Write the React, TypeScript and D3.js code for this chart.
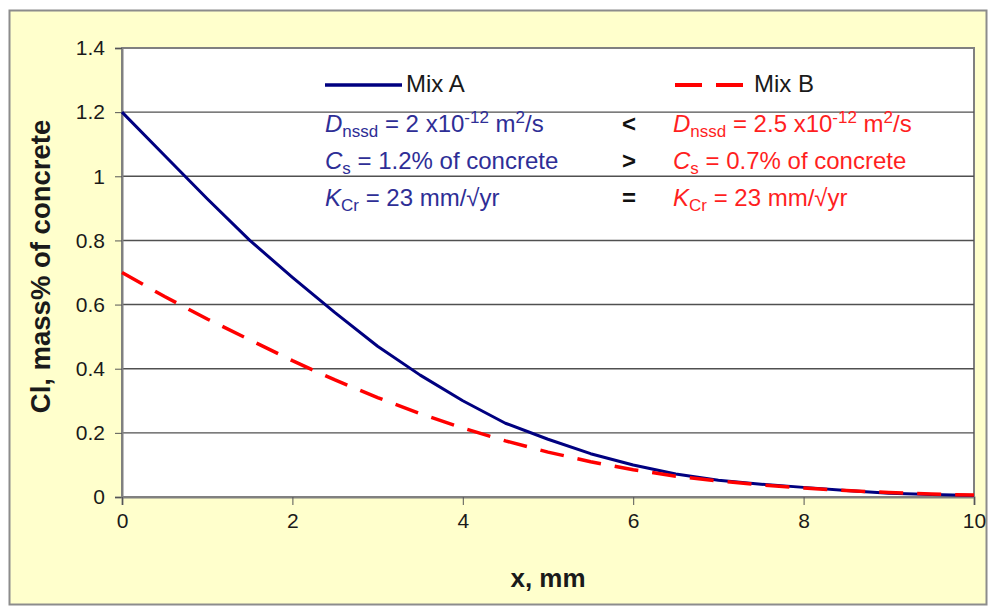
import * as d3 from "d3";
import { useEffect, useRef } from "react";

// depth x (mm), sampled every 0.5 mm
const xValues = [0, 0.5, 1, 1.5, 2, 2.5, 3, 3.5, 4, 4.5, 5, 5.5, 6, 6.5, 7, 7.5, 8, 8.5, 9, 9.5, 10];
const mixA = [1.2, 1.065, 0.93, 0.8, 0.685, 0.575, 0.47, 0.38, 0.3, 0.23, 0.18, 0.135, 0.1, 0.072, 0.052, 0.04, 0.03, 0.02, 0.012, 0.008, 0.005];
const mixB = [0.7, 0.625, 0.555, 0.49, 0.425, 0.365, 0.31, 0.26, 0.215, 0.175, 0.14, 0.11, 0.085, 0.065, 0.05, 0.038, 0.028, 0.02, 0.014, 0.009, 0.006];

const yTicks = [0, 0.2, 0.4, 0.6, 0.8, 1, 1.2, 1.4];
const yTickLabels = ["0", "0.2", "0.4", "0.6", "0.8", "1", "1.2", "1.4"];
const xTicks = [0, 2, 4, 6, 8, 10];

const seriesNames = ["Mix A", "Mix B"];
const yTitle = "Cl, mass% of concrete";
const xTitle = "x, mm";

// annotation rows, split into plain / italic / sub / sup runs
type Part = { t: string; it?: boolean; sub?: boolean; sup?: boolean };
const notesA: Part[][] = [
  [{ t: "D", it: true }, { t: "nssd", sub: true }, { t: " = 2 x10" }, { t: "-12", sup: true }, { t: " m" }, { t: "2", sup: true }, { t: "/s" }],
  [{ t: "C", it: true }, { t: "s", sub: true }, { t: " = 1.2% of concrete" }],
  [{ t: "K", it: true }, { t: "Cr", sub: true }, { t: " = 23 mm/\u221Ayr" }],
];
const notesB: Part[][] = [
  [{ t: "D", it: true }, { t: "nssd", sub: true }, { t: " = 2.5 x10" }, { t: "-12", sup: true }, { t: " m" }, { t: "2", sup: true }, { t: "/s" }],
  [{ t: "C", it: true }, { t: "s", sub: true }, { t: " = 0.7% of concrete" }],
  [{ t: "K", it: true }, { t: "Cr", sub: true }, { t: " = 23 mm/\u221Ayr" }],
];
const compareSigns = ["<", ">", "="];

const COL_A = "#000080";
const COL_B = "#ff0000";
const TXT_A = "#2e2e96";
const TXT_B = "#ff1f1f";
const FONT = "Arial, 'Liberation Sans', sans-serif";

export default function App() {
  const ref = useRef<SVGSVGElement | null>(null);

  useEffect(() => {
    const host = ref.current;
    if (!host) return;
    const svg = d3.select(host);
    svg.selectAll("*").remove();

    const left = 122;
    const right = 974;
    const top = 48;
    const bottom = 497;

    // chart area
    svg.append("rect")
      .attr("x", 9.5).attr("y", 10.5).attr("width", 977).attr("height", 594)
      .attr("fill", "#ffffcc").attr("stroke", "#8c8c8c").attr("stroke-width", 2);

    const x = d3.scaleLinear().domain([0, 10]).range([left, right]);
    const y = d3.scaleLinear().domain([0, 1.4]).range([bottom, top]);

    svg.append("rect")
      .attr("x", left).attr("y", top).attr("width", right - left).attr("height", bottom - top)
      .attr("fill", "#ffffff").attr("stroke", "#808080").attr("stroke-width", 2);

    // gridlines
    svg.append("g").selectAll("line")
      .data(yTicks.filter((d) => d > 0 && d < 1.4))
      .enter().append("line")
      .attr("x1", left).attr("x2", right)
      .attr("y1", (d) => y(d)).attr("y2", (d) => y(d))
      .attr("stroke", "#505050").attr("stroke-width", 1.4);

    // y axis
    const yAxis = d3.axisLeft(y).tickValues(yTicks).tickSize(7).tickPadding(10)
      .tickFormat((d, i) => yTickLabels[i]);
    const gy = svg.append("g").attr("transform", `translate(${left},0)`).call(yAxis);
    gy.select(".domain").attr("stroke", "#808080").attr("stroke-width", 2);
    gy.selectAll(".tick line").attr("stroke", "#555");
    gy.selectAll("text").attr("font-family", FONT).attr("font-size", 21).attr("fill", "#1a1a1a");

    // x axis
    const xAxis = d3.axisBottom(x).tickValues(xTicks).tickSize(8).tickPadding(8).tickFormat(d3.format("d"));
    const gx = svg.append("g").attr("transform", `translate(0,${bottom})`).call(xAxis);
    gx.select(".domain").attr("stroke", "#808080").attr("stroke-width", 2);
    gx.selectAll(".tick line").attr("stroke", "#555");
    gx.selectAll("text").attr("font-family", FONT).attr("font-size", 21).attr("fill", "#1a1a1a");

    // titles
    svg.append("text")
      .attr("transform", `translate(50,${(top + bottom) / 2 - 6}) rotate(-90)`)
      .attr("text-anchor", "middle")
      .attr("font-family", FONT).attr("font-weight", 700).attr("font-size", 27.5).attr("fill", "#1a1a1a")
      .text(yTitle);
    svg.append("text")
      .attr("x", (left + right) / 2).attr("y", 587)
      .attr("text-anchor", "middle")
      .attr("font-family", FONT).attr("font-weight", 700).attr("font-size", 26).attr("fill", "#1a1a1a")
      .text(xTitle);

    // curves
    const line = d3.line<number>().x((d, i) => x(xValues[i])).y((d) => y(d));
    svg.append("path").datum(mixA).attr("d", line)
      .attr("fill", "none").attr("stroke", COL_A).attr("stroke-width", 3).attr("stroke-linejoin", "round");
    svg.append("path").datum(mixB).attr("d", line)
      .attr("fill", "none").attr("stroke", COL_B).attr("stroke-width", 3.5).attr("stroke-dasharray", "24 14");

    // legend
    svg.append("line").attr("x1", 325).attr("x2", 402).attr("y1", 85).attr("y2", 85)
      .attr("stroke", COL_A).attr("stroke-width", 3.5);
    svg.append("line").attr("x1", 675).attr("x2", 743).attr("y1", 85).attr("y2", 85)
      .attr("stroke", COL_B).attr("stroke-width", 4).attr("stroke-dasharray", "27 14");
    svg.append("text").attr("x", 406).attr("y", 92).attr("font-family", FONT).attr("font-size", 24)
      .attr("fill", "#1a1a1a").text(seriesNames[0]);
    svg.append("text").attr("x", 754).attr("y", 92).attr("font-family", FONT).attr("font-size", 24)
      .attr("fill", "#1a1a1a").text(seriesNames[1]);

    const rowY = [132, 169, 206];
    const writeRow = (parts: Part[], x0: number, y0: number, color: string) => {
      const t = svg.append("text").attr("x", x0).attr("y", y0)
        .attr("font-family", FONT).attr("font-size", 24).attr("fill", color);
      let shift = 0;
      parts.forEach((p) => {
        const target = p.sub ? 5 : p.sup ? -9 : 0;
        const ts = t.append("tspan").attr("dy", target - shift).text(p.t);
        shift = target;
        if (p.sub || p.sup) ts.attr("font-size", 17);
        if (p.it) ts.attr("font-style", "italic");
      });
    };
    notesA.forEach((row, i) => writeRow(row, 325, rowY[i], TXT_A));
    notesB.forEach((row, i) => writeRow(row, 673, rowY[i], TXT_B));
    svg.append("g").selectAll("text").data(compareSigns).enter().append("text")
      .attr("x", 629).attr("y", (d, i) => rowY[i])
      .attr("text-anchor", "middle")
      .attr("font-family", FONT).attr("font-weight", 700).attr("font-size", 24).attr("fill", "#111")
      .text((d) => d);
  }, []);

  return (
    <div style={{ position: "absolute", left: 0, top: 0 }}>
      <svg ref={ref} width={990} height={607} style={{ display: "block" }} />
    </div>
  );
}
